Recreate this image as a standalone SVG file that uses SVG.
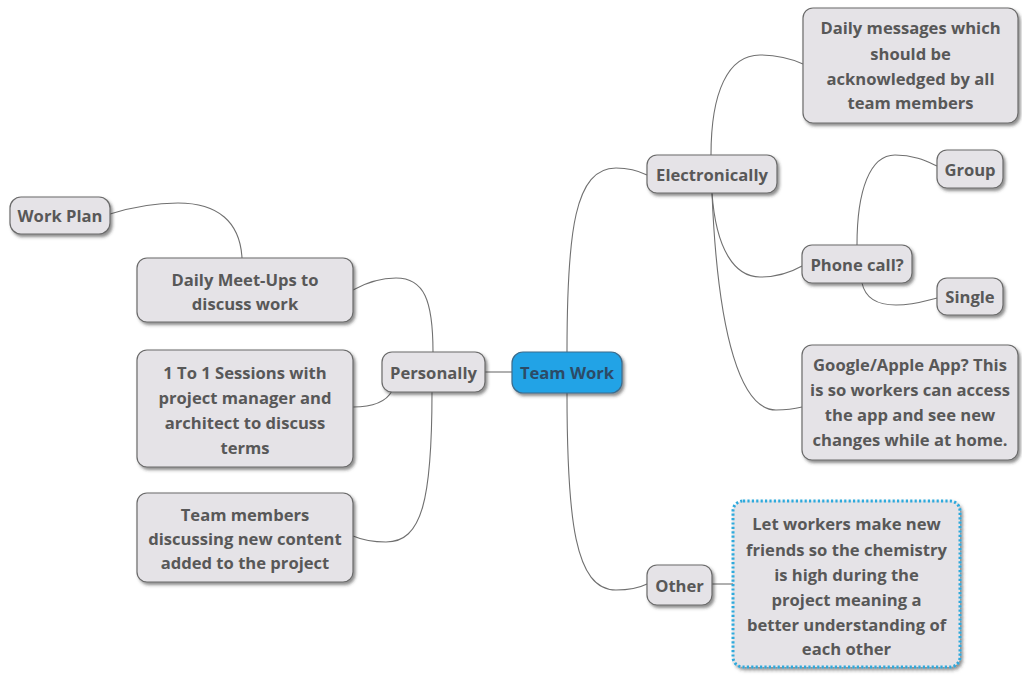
<svg xmlns="http://www.w3.org/2000/svg" width="1022" height="675" viewBox="0 0 1022 675">
<defs>
<filter id="sh" x="-10%" y="-10%" width="130%" height="140%">
<feDropShadow dx="2" dy="2.5" stdDeviation="1.5" flood-color="#333" flood-opacity="0.55"/>
</filter>
<style>
.n{fill:#e5e3e7;stroke:#6b6b6b;stroke-width:1.2;filter:url(#sh)}
.t{font-family:"Open Sans","Noto Sans",sans-serif;font-weight:bold;font-size:16.6px;fill:#585858;text-anchor:middle;dominant-baseline:central}
.c{fill:none;stroke:#707070;stroke-width:1.1}
</style>
</defs>
<rect width="1022" height="675" fill="#fff"/>
<g id="connectors">
<path class="c" d="M485,372 L512,372"/>
<path class="c" d="M567,352 C567,230 575,168 616,168 C632,168 641,172 647,175"/>
<path class="c" d="M567,393 C567,520 575,590 616,590 C632,590 641,587 647,584"/>
<path class="c" d="M433,352 C433,300 424,278 396,278 C376,278 362,285 353,290"/>
<path class="c" d="M392,391 C386,402 372,407 353,407"/>
<path class="c" d="M432,392 C432,500 422,542 386,542 C370,542 360,539 353,536"/>
<path class="c" d="M242,258 C240,222 218,203 178,203 C148,203 126,209 110,214"/>
<path class="c" d="M711,155 C711,92 728,55 760,55 C780,55 794,60 803,64"/>
<path class="c" d="M712,193 C716,250 735,277 760,277 C780,277 795,270 802,266"/>
<path class="c" d="M712,193 C718,340 742,410 776,410 C790,410 798,408 802,407"/>
<path class="c" d="M857,245 C857,190 870,155 895,155 C915,155 928,162 937,166"/>
<path class="c" d="M862,283 C865,297 876,305 896,305 C915,305 928,300 937,298"/>
<path class="c" d="M712,584 L733,584"/>
</g>
<g id="team-work">
<rect x="512" y="352" width="110" height="41" rx="11" fill="#22a3e6" stroke="#3d6c8c" stroke-width="1.2" filter="url(#sh)"/>
<text class="t" x="567" y="372.5" style="fill:#2c4b66">Team Work</text>
</g>
<g id="personally">
<rect class="n" x="382" y="352" width="103" height="40" rx="10"/>
<text class="t" x="433.5" y="372">Personally</text>
</g>
<g id="electronically">
<rect class="n" x="647" y="155" width="130" height="38" rx="10"/>
<text class="t" x="712" y="174">Electronically</text>
</g>
<g id="other">
<rect class="n" x="647" y="565" width="65" height="40" rx="10"/>
<text class="t" x="679.5" y="585">Other</text>
</g>
<g id="daily-messages">
<rect class="n" x="803" y="8" width="215" height="115" rx="10"/>
<text class="t" x="910.5" y="27">Daily messages which</text>
<text class="t" x="910.5" y="53">should be</text>
<text class="t" x="910.5" y="78">acknowledged by all</text>
<text class="t" x="910.5" y="102">team members</text>
</g>
<g id="group">
<rect class="n" x="937" y="150" width="66" height="38" rx="10"/>
<text class="t" x="970" y="169">Group</text>
</g>
<g id="phone-call">
<rect class="n" x="802" y="245" width="110" height="38" rx="10"/>
<text class="t" x="857" y="264">Phone call?</text>
</g>
<g id="single">
<rect class="n" x="937" y="278" width="66" height="37" rx="10"/>
<text class="t" x="970" y="296.5">Single</text>
</g>
<g id="google-app">
<rect class="n" x="802" y="345" width="216" height="115" rx="10"/>
<text class="t" x="910" y="364">Google/Apple App? This</text>
<text class="t" x="910" y="389">is so workers can access</text>
<text class="t" x="910" y="414">the app and see new</text>
<text class="t" x="910" y="439">changes while at home.</text>
</g>
<g id="let-workers">
<rect x="733" y="501" width="227" height="166" rx="10" fill="#e5e3e7" stroke="#2fa9dc" stroke-width="3" stroke-dasharray="2.2 2.2" filter="url(#sh)"/>
<text class="t" x="846.5" y="523">Let workers make new</text>
<text class="t" x="846.5" y="549">friends so the chemistry</text>
<text class="t" x="846.5" y="574">is high during the</text>
<text class="t" x="846.5" y="599">project meaning a</text>
<text class="t" x="846.5" y="624">better understanding of</text>
<text class="t" x="846.5" y="648">each other</text>
</g>
<g id="work-plan">
<rect class="n" x="10" y="197" width="100" height="37" rx="11"/>
<text class="t" x="60" y="215.5">Work Plan</text>
</g>
<g id="daily-meetups">
<rect class="n" x="137" y="258" width="216" height="64" rx="10"/>
<text class="t" x="245" y="279">Daily Meet-Ups to</text>
<text class="t" x="245" y="303">discuss work</text>
</g>
<g id="one-to-one">
<rect class="n" x="137" y="350" width="216" height="117" rx="10"/>
<text class="t" x="245" y="372">1 To 1 Sessions with</text>
<text class="t" x="245" y="397">project manager and</text>
<text class="t" x="245" y="422">architect to discuss</text>
<text class="t" x="245" y="447">terms</text>
</g>
<g id="team-members">
<rect class="n" x="137" y="493" width="216" height="89" rx="10"/>
<text class="t" x="245" y="514">Team members</text>
<text class="t" x="245" y="538">discussing new content</text>
<text class="t" x="245" y="562">added to the project</text>
</g>
</svg>
